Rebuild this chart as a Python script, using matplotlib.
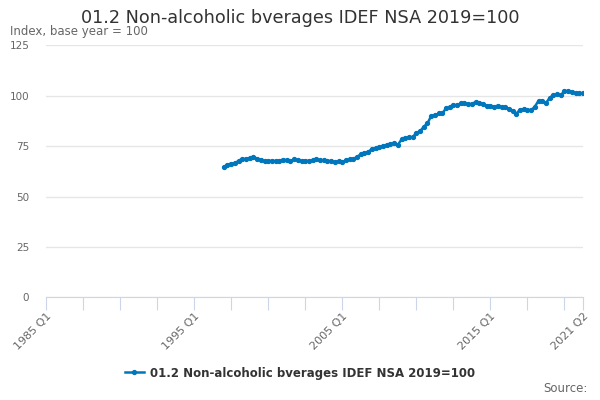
import matplotlib
matplotlib.use("Agg")
import matplotlib.pyplot as plt

# quarterly index, 1997 Q1 .. 2021 Q2
start_year = 1997
values = [
    64.6, 65.8, 66.3, 66.4, 67.8, 68.6, 68.6, 69.0, 69.6, 68.8,
    68.3, 67.5, 67.5, 67.8, 67.5, 67.8, 68.3, 68.0, 67.5, 68.4,
    68.1, 67.6, 67.8, 67.6, 67.9, 68.4, 67.9, 67.9, 67.6, 67.5,
    67.1, 67.4, 67.1, 67.9, 68.4, 68.6, 69.7, 70.9, 71.6, 72.0,
    73.7, 73.9, 74.4, 75.2, 75.6, 76.0, 76.4, 75.6, 78.3, 79.0,
    79.4, 79.3, 81.7, 82.3, 84.6, 86.3, 89.9, 90.2, 91.2, 91.2,
    93.7, 94.3, 95.5, 95.2, 96.2, 96.2, 95.8, 95.9, 96.9, 96.6,
    95.9, 94.9, 95.0, 94.6, 95.0, 94.4, 94.4, 93.4, 92.4, 91.1,
    93.1, 93.3, 93.0, 92.8, 94.6, 97.5, 97.5, 96.3, 99.0, 100.3,
    100.6, 100.3, 102.3, 102.3, 102.0, 101.2, 101.2, 101.2,
]
series_name = "01.2 Non-alcoholic bverages IDEF NSA 2019=100"
tick_labels = ["1985 Q1", "1995 Q1", "2005 Q1", "2015 Q1", "2021 Q2"]
y_ticks = [0, 25, 50, 75, 100, 125]

# x positions as quarter index counted from 1985 Q1
first_q = (start_year - 1985) * 4
xs = [first_q + i for i in range(len(values))]
last_q = (2021 - 1985) * 4 + 1

plt.rcParams['font.family'] = ['DejaVu Sans']
fig = plt.figure(figsize=(6, 4), dpi=100)
ax = fig.add_axes([46 / 600, 1 - 297.3 / 400, (583 - 46) / 600, (297.3 - 45.3) / 400])

blue = "#0077bd"
line, = ax.plot(xs, values, color=blue, lw=1.8, marker="o", ms=2.8,
                label=series_name, zorder=3)

ax.set_xlim(0, last_q)
ax.set_ylim(0, 125)
ax.set_yticks(y_ticks)
ax.yaxis.grid(True, color="#e6e6e6", lw=1)
ax.set_axisbelow(True)
ax.tick_params(axis="y", length=0, labelsize=7.5, labelcolor="#666666", pad=12)

major = list(range(0, last_q, 10)) + [last_q]
ax.set_xticks(major)
lab = {0: tick_labels[0], 40: tick_labels[1], 80: tick_labels[2],
       120: tick_labels[3], last_q: tick_labels[4]}
ax.set_xticklabels([lab.get(m, "") for m in major], rotation=45, ha="right",
                   rotation_mode="anchor")
ax.tick_params(axis="x", length=9, color="#ccd6eb", labelsize=8,
               labelcolor="#666666", pad=1)

for s in ["top", "right", "left"]:
    ax.spines[s].set_visible(False)
ax.spines["bottom"].set_color("#ccd6eb")

fig.text(0.5, 1 - 18 / 400, series_name, ha="center", va="center",
         fontsize=12.7, color="#333333")
fig.text(10 / 600, 1 - 32 / 400, "Index, base year = 100", ha="left",
         va="center", fontsize=8.5, color="#666666")
fig.text(588 / 600, 1 - 389 / 400, "Source:", ha="right", va="center",
         fontsize=8.5, color="#666666")

leg = fig.legend(handles=[line], loc="center", bbox_to_anchor=(0.5, 1 - 373 / 400),
                 frameon=False, prop={"weight": "bold", "size": 8.5},
                 handlelength=1.6, handletextpad=0.5)
for t in leg.get_texts():
    t.set_color("#333333")

fig.savefig("out.png", dpi=100)
